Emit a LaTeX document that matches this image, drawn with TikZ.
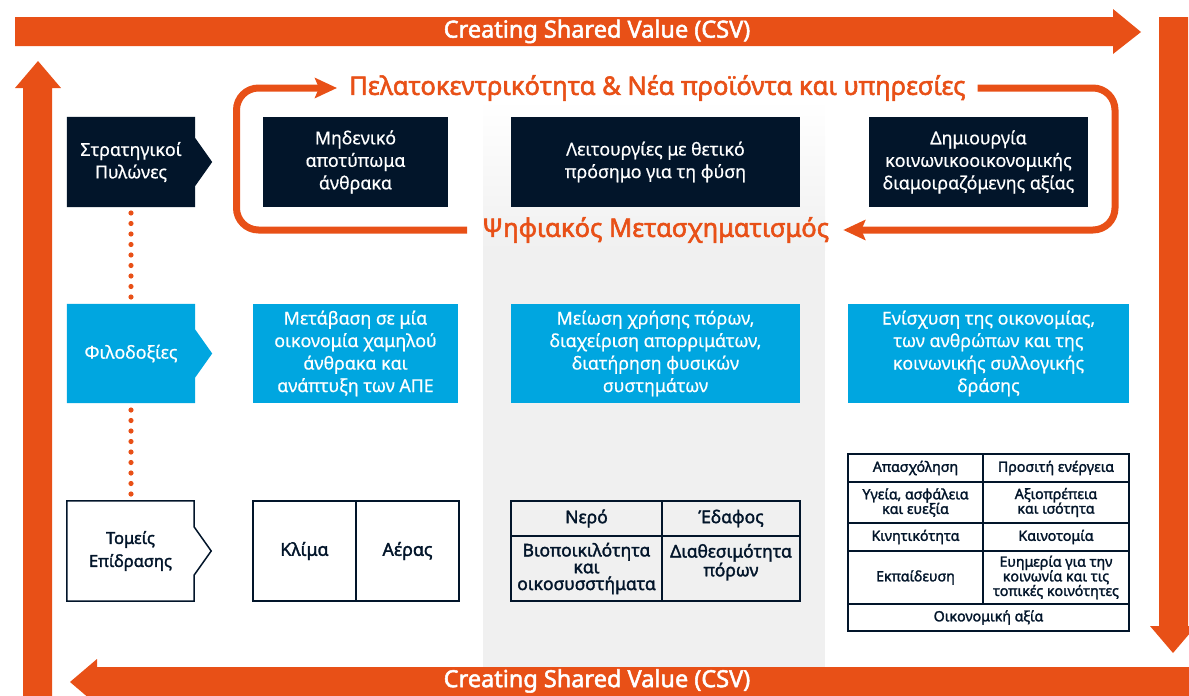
\documentclass[tikz,border=0pt]{standalone}
\usepackage{fontspec}
\setmainfont{Noto Sans}
\newfontfamily\lightbold[FakeBold=0.6]{Noto Sans}
\newfontfamily\medfont[FakeBold=1.8]{Noto Sans}
\newfontfamily\heavyfont[FakeBold=2.2]{Noto Sans}
\usetikzlibrary{arrows.meta,backgrounds}

\definecolor{csvorange}{RGB}{232,80,23}
\definecolor{pillarnavy}{RGB}{2,21,42}
\definecolor{ambitionblue}{RGB}{0,166,224}
\definecolor{columngrey}{RGB}{240,240,240}

\newcommand{\boxfont}{\lightbold\fontsize{17.8}{22.5}\selectfont}
\newcommand{\chevron}[2]{%
	\path[#2] (#1.north west) -- (#1.north east) -- ([yshift=24pt]#1.east) -- ([xshift=17pt]#1.east)
		-- ([yshift=-24pt]#1.east) -- (#1.south east) -- (#1.south west) -- cycle;}

\tikzset{
	pillar/.style={fill=pillarnavy, text=white, align=center, inner sep=0pt, minimum height=90pt, font=\boxfont},
	ambition/.style={fill=ambitionblue, text=white, align=center, inner sep=0pt, minimum height=99pt, font=\boxfont},
	rowlabel/.style={text=white, align=center, inner sep=0pt, minimum width=128pt, font=\boxfont},
	cell/.style={draw=pillarnavy, line width=1.5pt, text=pillarnavy, align=center, inner sep=0pt},
	csvtext/.style={text=white, font=\heavyfont\fontsize{23.5}{26}\selectfont},
	looptext/.style={text=csvorange, anchor=west, inner sep=0pt, font=\heavyfont\fontsize{25.5}{28}\selectfont},
	loopline/.style={draw=csvorange, line width=7pt, rounded corners=22pt},
	looptip/.style={-{Stealth[length=22pt,width=20pt,inset=4pt]}}
}

\begin{document}
\begin{tikzpicture}[x=1pt, y=-1pt]
	\useasboundingbox (0,0) rectangle (1189,696);

	% grey middle column
	\shade[top color=white, bottom color=columngrey] (483,100) rectangle (825,250.5);
	\fill[columngrey] (483,250) rectangle (825,667);

	% CSV frame
	\begin{scope}
		\clip (0,0) rectangle (1189,696);
		\fill[csvorange] (15,17) -- (1113,17) -- (1113,9) -- (1141,32) -- (1113,54) -- (1113,46) -- (15,46) -- cycle;
		\fill[csvorange] (1159,17) -- (1188,17) -- (1188,626) -- (1196,626) -- (1173,653) -- (1150,626) -- (1159,626) -- cycle;
		\fill[csvorange] (1192,667) -- (97,667) -- (97,659) -- (70,682) -- (97,705) -- (97,700) -- (1192,700) -- cycle;
		\fill[csvorange] (23,700) -- (23,88) -- (15,88) -- (38,61) -- (61,88) -- (52,88) -- (52,700) -- cycle;
	\end{scope}
	\node[csvtext] (csvtop) at (597,31.5) {Creating Shared Value (CSV)};
	\node[csvtext] (csvbottom) at (597,681) {Creating Shared Value (CSV)};

	% loop
	\node[looptext] (customer) at (349,88) {Πελατοκεντρικότητα \& Νέα προϊόντα και υπηρεσίες};
	\node[looptext] (digital) at (482,230) {Ψηφιακός Μετασχηματισμός};
	\coordinate (loopnw) at (236.5,88);
	\coordinate (loopse) at (1115,230);
	\draw[loopline, looptip] ([xshift=-15pt]digital.west) -| (loopnw) -- ([xshift=-12pt]customer.west);
	\draw[loopline, looptip] ([xshift=12pt]customer.east) -| (loopse) -- ([xshift=14pt]digital.east);

	% strategic pillars
	\node[rowlabel, minimum height=90pt] (pillars) at (131,162) {Στρατηγικοί\\Πυλώνες};
	\node[pillar, minimum width=185pt] (zero) at (355.5,162) {Μηδενικό\\αποτύπωμα\\άνθρακα};
	\node[pillar, minimum width=289pt] (nature) at (655.5,162) {Λειτουργίες με θετικό\\πρόσημο για τη φύση};
	\node[pillar, minimum width=219pt] (social) at (978.5,162) {Δημιουργία\\κοινωνικοοικονομικής\\διαμοιραζόμενης αξίας};

	% ambitions
	\node[rowlabel, minimum height=99pt] (ambitions) at (131,353.5) {Φιλοδοξίες};
	\node[ambition, minimum width=205pt] (lowcarbon) at (355.5,353.5) {Μετάβαση σε μία\\οικονομία χαμηλού\\άνθρακα και\\ανάπτυξη των ΑΠΕ};
	\node[ambition, minimum width=289pt] (resources) at (655.5,353.5) {Μείωση χρήσης πόρων,\\διαχείριση απορριμάτων,\\διατήρηση φυσικών\\συστημάτων};
	\node[ambition, minimum width=281pt] (economy) at (988.5,353.5) {Ενίσχυση της οικονομίας,\\των ανθρώπων και της\\κοινωνικής συλλογικής\\δράσης};

	% impact areas
	\node[rowlabel, text=pillarnavy, minimum width=127pt, minimum height=100pt, font=\medfont\fontsize{16.5}{23}\selectfont] (impact) at (130.5,551) {Τομείς\\Επίδρασης};

	\begin{scope}[on background layer]
		\chevron{pillars}{fill=pillarnavy}
		\chevron{ambitions}{fill=ambitionblue}
		\chevron{impact}{draw=pillarnavy, line width=1.5pt, fill=white}
	\end{scope}

	\foreach \i in {0,...,8} {
		\fill[csvorange] (131,213+10.5*\i) circle (2.6pt);
		\fill[csvorange] (131,410+10.5*\i) circle (2.6pt);
	}

	\begin{scope}[every node/.append style={cell, font=\medfont\fontsize{17.8}{19}\selectfont}]
		\node[minimum width=103pt, minimum height=100pt] (climate) at (304.5,551) {Κλίμα};
		\node[minimum width=103pt, minimum height=100pt] (air) at (407.5,551) {Αέρας};
	\end{scope}

	\begin{scope}[every node/.append style={cell, font=\medfont\fontsize{17.5}{16.8}\selectfont}]
		\node[minimum width=151pt, minimum height=35pt] (water) at (586.5,518.5) {Νερό};
		\node[minimum width=138pt, minimum height=35pt] (soil) at (731,518.5) {Έδαφος};
		\node[minimum width=151pt, minimum height=65pt] (biodiv) at (586.5,568.5) {Βιοποικιλότητα\\και\\οικοσυσστήματα};
		\node[minimum width=138pt, minimum height=65pt] (avail) at (731,568.5) {Διαθεσιμότητα\\πόρων\\~};
	\end{scope}

	\begin{scope}[every node/.append style={cell, font=\medfont\fontsize{14.2}{14.6}\selectfont}]
		\node[minimum width=135pt, minimum height=28pt] (jobs) at (915.5,468) {Απασχόληση};
		\node[minimum width=146pt, minimum height=28pt] (energy) at (1056,468) {Προσιτή ενέργεια};
		\node[minimum width=135pt, minimum height=41pt] (health) at (915.5,502.5) {Υγεία, ασφάλεια\\και ευεξία};
		\node[minimum width=146pt, minimum height=41pt] (dignity) at (1056,502.5) {Αξιοπρέπεια\\και ισότητα};
		\node[minimum width=135pt, minimum height=28pt] (mobility) at (915.5,537) {Κινητικότητα};
		\node[minimum width=146pt, minimum height=28pt] (innovation) at (1056,537) {Καινοτομία};
		\node[minimum width=135pt, minimum height=53pt] (education) at (915.5,577.5) {Εκπαίδευση};
		\node[minimum width=146pt, minimum height=53pt] (welfare) at (1056,577.5) {Ευημερία για την\\κοινωνία και τις\\τοπικές κοινότητες};
		\node[minimum width=281pt, minimum height=27pt] (value) at (988.5,617.5) {Οικονομική αξία};
	\end{scope}
\end{tikzpicture}
\end{document}
